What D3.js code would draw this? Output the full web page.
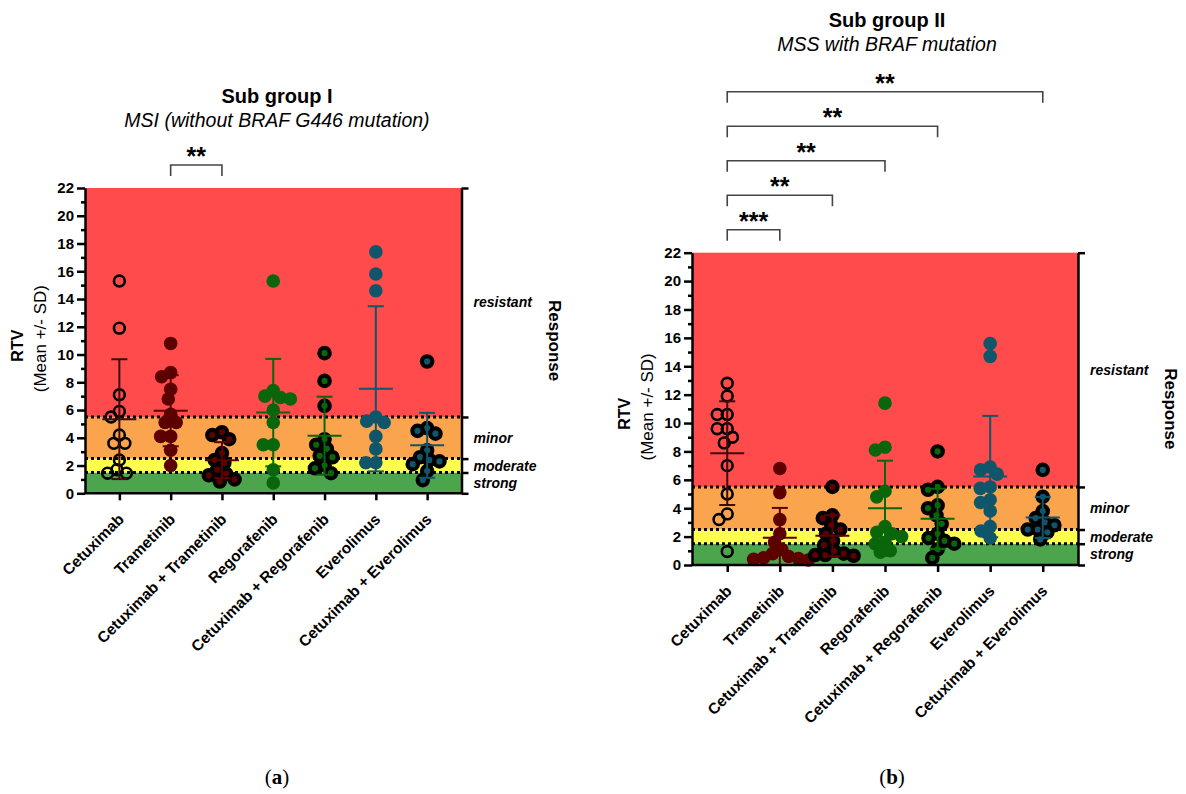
<!DOCTYPE html>
<html>
<head>
<meta charset="utf-8">
<script src="https://cdn.jsdelivr.net/npm/d3@7"></script>
<style>
body{margin:0;background:#fff;}
svg text{font-family:"Liberation Sans",Arial,sans-serif;fill:#000;}
</style>
</head>
<body>
<div id="chart"></div>
<script>
// treatment groups on the x axis
const treatments = ["Cetuximab","Trametinib","Cetuximab + Trametinib","Regorafenib",
    "Cetuximab + Regorafenib","Everolimus","Cetuximab + Everolimus"];

// RTV per model, sub group I (MSI), one list per treatment
const rtvGroupI = [
    [15.3, 11.9, 7.1, 5.9, 5.5, 4.2, 3.6, 3.6, 2.4, 1.7, 1.45, 1.45],
    [10.8, 8.7, 8.4, 7.5, 6.8, 5.7, 5.1, 5.1, 4.1, 4.1, 3.1, 2.0],
    [4.4, 4.2, 3.9, 2.9, 2.4, 2.2, 1.7, 1.4, 1.3, 1.0, 0.85],
    [15.3, 7.4, 7.0, 6.9, 6.8, 6.0, 5.1, 3.5, 3.5, 1.7, 0.75],
    [10.1, 8.1, 6.3, 3.9, 3.5, 3.2, 2.7, 2.6, 2.0, 1.8, 1.45],
    [17.4, 15.8, 14.6, 5.5, 5.2, 5.1, 4.1, 3.2, 2.2, 2.2],
    [9.5, 4.7, 4.5, 4.3, 3.1, 2.6, 2.4, 2.3, 2.1, 1.6, 0.95]
];
// RTV per model, sub group II (MSS with BRAF mutation)
const rtvGroupII = [
    [12.8, 11.9, 10.6, 10.6, 9.6, 9.6, 9.0, 8.6, 7.0, 5.0, 3.6, 3.2, 0.95],
    [6.8, 5.1, 3.2, 2.2, 1.6, 1.1, 0.8, 0.6, 0.5, 0.45, 0.4, 0.35],
    [5.5, 3.5, 3.3, 2.8, 2.5, 2.2, 1.7, 1.4, 1.0, 0.8, 0.7, 0.7, 0.65],
    [11.4, 8.3, 8.1, 5.2, 4.8, 2.7, 2.3, 2.2, 2.0, 1.6, 1.5, 1.0, 0.9],
    [8.0, 5.5, 5.3, 4.2, 4.0, 3.5, 2.9, 2.2, 1.9, 1.7, 1.5, 1.1, 0.5],
    [15.6, 14.7, 6.9, 6.7, 6.4, 5.5, 5.4, 4.6, 4.4, 3.8, 2.7, 2.4, 1.9],
    [6.7, 4.8, 3.8, 3.3, 3.0, 2.8, 2.5, 2.5, 2.3, 1.8]
];

// significance brackets: [from, to, stars]
const sigGroupI = [["Trametinib","Cetuximab + Trametinib","**"]];
const sigGroupII = [
    ["Cetuximab","Trametinib","***"],
    ["Cetuximab","Cetuximab + Trametinib","**"],
    ["Cetuximab","Regorafenib","**"],
    ["Cetuximab","Cetuximab + Regorafenib","**"],
    ["Cetuximab","Cetuximab + Everolimus","**"]
];

// response zones
const responseEdges = [0, 1.5, 2.5, 5.5, 22];
const responseNames = ["strong","moderate","minor","resistant"];
const yTicks = d3.range(0, 23, 2);
const yMinor = d3.range(1, 22, 2);

// styles
const bandColors = ["#4ca54c","#ffff4e","#fba44e","#ff4b4b"];
const markerKind = ["open","fill","ring","fill","ring","fill","ring"];
const markerColor = ["none","#5c0000","#5c0000","#0a660a","#0a660a","#10566b","#10566b"];
const barColor = ["#3d0b0b","#5c0000","#5c0000","#0a660a","#0a660a","#10566b","#10566b"];

const svg = d3.select("#chart").append("svg")
    .attr("width",1186).attr("height",794);

// simple beeswarm: nearest free horizontal offset
function swarm(vals,y,diam){
    const pts = vals.map(v => ({v:v, py:y(v)})).sort((a,b) => a.py - b.py);
    const placed = [];
    pts.forEach(p => {
        const near = placed.filter(q => Math.abs(q.py - p.py) < diam);
        const cands = [0];
        near.forEach(q => {
            const d = Math.sqrt(diam*diam - (q.py-p.py)**2);
            cands.push(q.dx + d, q.dx - d);
        });
        cands.sort((a,b) => Math.abs(a) - Math.abs(b) || a - b);
        p.dx = cands.find(c => near.every(q => (c-q.dx)**2 + (p.py-q.py)**2 >= diam*diam - 0.01));
        placed.push(p);
    });
    return pts;
}

function drawPanel(o){
    const g = svg.append("g");
    const x = d3.scalePoint().domain(treatments).range([o.left,o.right]).padding(0.67);
    const y = d3.scaleLinear().domain([0,22]).range([o.bottom,o.top]);

    // zone bands
    g.selectAll(".band").data(responseNames).enter().append("rect")
        .attr("x",o.left).attr("width",o.right - o.left)
        .attr("y",(d,i) => y(responseEdges[i+1]))
        .attr("height",(d,i) => y(responseEdges[i]) - y(responseEdges[i+1]))
        .attr("fill",(d,i) => bandColors[i]);

    // dotted cut-offs
    g.selectAll(".cut").data(responseEdges.slice(1,4)).enter().append("line")
        .attr("x1",o.left).attr("x2",o.right)
        .attr("y1",d => y(d)).attr("y2",d => y(d))
        .attr("stroke","#000").attr("stroke-width",3).attr("stroke-dasharray","3,3");

    // points
    treatments.forEach((t,i) => {
        const pts = swarm(o.values[i],y,10);
        const kind = markerKind[i];
        g.selectAll(".pt"+i).data(pts).enter().append("circle")
            .attr("cx",d => x(t) + d.dx).attr("cy",d => d.py)
            .attr("r",kind == "fill" ? 6.8 : (kind == "open" ? 5.4 : 5.2))
            .attr("fill",kind == "open" ? "none" : markerColor[i])
            .attr("stroke",kind == "fill" ? "none" : "#000")
            .attr("stroke-width",kind == "open" ? 2.6 : 4.2);

        // mean +/- SD
        const m = d3.mean(o.values[i]), sd = d3.deviation(o.values[i]);
        const lo = Math.max(0, m - sd), hi = m + sd, cx = x(t);
        const eb = g.append("g").attr("stroke",barColor[i]).attr("stroke-width",2);
        eb.append("line").attr("x1",cx).attr("x2",cx).attr("y1",y(lo)).attr("y2",y(hi));
        eb.append("line").attr("x1",cx-8).attr("x2",cx+8).attr("y1",y(hi)).attr("y2",y(hi));
        if (m - sd > 0) eb.append("line").attr("x1",cx-8).attr("x2",cx+8).attr("y1",y(lo)).attr("y2",y(lo));
        eb.append("line").attr("x1",cx-17).attr("x2",cx+17).attr("y1",y(m)).attr("y2",y(m));
    });

    // left axis
    const ya = g.append("g").attr("transform",`translate(${o.left},0)`)
        .call(d3.axisLeft(y).tickValues(yTicks).tickSize(8).tickSizeOuter(0).tickPadding(3));
    g.append("g").attr("transform",`translate(${o.left},0)`)
        .call(d3.axisLeft(y).tickValues(yMinor).tickSize(4).tickFormat(""))
        .call(s => s.select(".domain").remove());
    // bottom axis
    const xa = g.append("g").attr("transform",`translate(0,${o.bottom})`)
        .call(d3.axisBottom(x).tickSize(7).tickSizeOuter(0));
    xa.select(".domain").attr("d",`M${o.left},0H${o.right}`);
    xa.selectAll(".tick text")
        .attr("x",0).attr("y",0).attr("dy",0)
        .attr("text-anchor","end")
        .attr("transform","translate(5,27) rotate(-45)")
        .style("font-size","15.5px").style("font-weight","bold");
    // right response axis
    const ra = g.append("g").attr("transform",`translate(${o.right},0)`)
        .call(d3.axisRight(y).tickValues(responseEdges).tickSize(7).tickSizeOuter(0).tickFormat(""));
    [ya,xa,ra].forEach(a => {
        a.selectAll("path,line").attr("stroke","#000").attr("stroke-width",2.5);
    });
    g.selectAll(".tick line").attr("stroke","#000").attr("stroke-width",2.5);
    ya.selectAll("text").style("font-size","15px").style("font-weight","bold").attr("fill","#000");

    g.selectAll(".zone").data(responseNames).enter().append("text")
        .attr("x",o.right + 12)
        .attr("y",(d,i) => y((responseEdges[i] + responseEdges[i+1]) / 2) + 5)
        .style("font-size","14px").style("font-weight","bold").style("font-style","italic")
        .text(d => d);

    g.append("text")
        .attr("transform",`translate(${o.right + 87},${(o.top + o.bottom)/2}) rotate(90)`)
        .attr("text-anchor","middle")
        .style("font-size","17px").style("font-weight","bold")
        .text("Response");

    // y title
    g.append("text")
        .attr("transform",`translate(${o.left - 62},${(o.top + o.bottom)/2 + 5}) rotate(-90)`)
        .attr("text-anchor","middle")
        .style("font-size","16px").style("font-weight","bold")
        .text("RTV");
    g.append("text")
        .attr("transform",`translate(${o.left - 39},${(o.top + o.bottom)/2 - 2}) rotate(-90)`)
        .attr("text-anchor","middle")
        .style("font-size","17px")
        .text("(Mean +/- SD)");

    // titles
    g.append("text").attr("x",o.titleX).attr("y",o.titleBase)
        .attr("text-anchor","middle")
        .style("font-size","20px").style("font-weight","bold")
        .text(o.title);
    g.append("text").attr("x",o.titleX).attr("y",o.titleBase + 23.5)
        .attr("text-anchor","middle")
        .style("font-size","19.5px").style("font-style","italic")
        .text(o.subtitle);

    // significance brackets
    o.sigs.forEach((s,k) => {
        const by = o.top - 23 - k*34.5, x1 = x(s[0]), x2 = x(s[1]);
        g.append("path")
            .attr("d",`M${x1},${by + 11}V${by}H${x2}V${by + 11}`)
            .attr("fill","none").attr("stroke","#444").attr("stroke-width",1.6);
        g.append("text").attr("x",(x1 + x2)/2).attr("y",by)
            .attr("text-anchor","middle")
            .style("font-size","25px").style("font-weight","bold")
            .text(s[2]);
    });

    // panel tag
    const tag = g.append("text").attr("x",o.tagX).attr("y",784)
        .attr("text-anchor","middle")
        .style("font-family","'Liberation Serif',serif").style("font-size","21px");
    tag.append("tspan").text("(");
    tag.append("tspan").style("font-weight","bold").text(o.tag);
    tag.append("tspan").text(")");
}

drawPanel({left:85, right:461.5, top:188, bottom:493.3,
    titleX:277, titleBase:103, title:"Sub group I",
    subtitle:"MSI (without BRAF G446 mutation)",
    values:rtvGroupI, sigs:sigGroupI, tag:"a", tagX:277});
drawPanel({left:692, right:1078, top:252.7, bottom:565,
    titleX:887, titleBase:27.3, title:"Sub group II",
    subtitle:"MSS with BRAF mutation",
    values:rtvGroupII, sigs:sigGroupII, tag:"b", tagX:892});
</script>
</body>
</html>
